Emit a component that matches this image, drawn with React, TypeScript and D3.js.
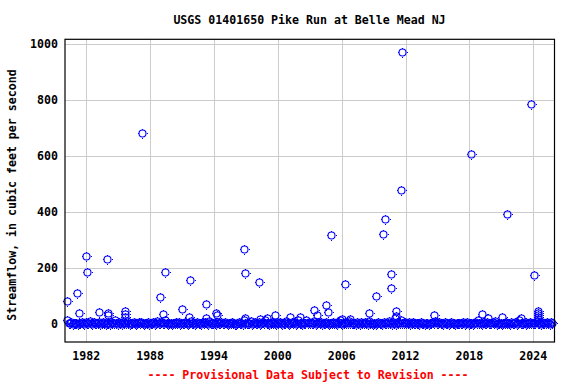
import React from 'react';
import * as d3 from 'd3';

const titleText = 'USGS 01401650 Pike Run at Belle Mead NJ';
const yAxisTitle = 'Streamflow, in cubic feet per second';
const footerText = '---- Provisional Data Subject to Revision ----';

const xTicks = [1982, 1988, 1994, 2000, 2006, 2012, 2018, 2024];
const yTicks = [0, 200, 400, 600, 800, 1000];

// high / notable measurements (decimal year, cfs)
const peakDates = [
  1980.2, 1980.2, 1981.15, 1981.34, 1982.0, 1982.06, 1983.2, 1983.97, 1984.0, 1984.05,
  1985.65, 1985.65, 1985.65, 1987.25, 1988.93, 1989.19, 1989.4, 1991.0, 1991.65, 1991.75,
  1993.25, 1993.25, 1994.16, 1994.25, 1996.81, 1996.9, 1996.95, 1998.2, 1998.35, 1999.0,
  1999.69, 2001.1, 2002.1, 2003.37, 2003.65, 2004.5, 2004.69, 2004.97, 2006.05, 2006.28,
  2006.8, 2008.53, 2009.25, 2009.84, 2010.1, 2010.68, 2010.68, 2011.15, 2011.1, 2011.0,
  2011.56, 2011.66, 2014.7, 2018.18, 2019.2, 2019.75, 2021.06, 2021.56, 2022.87, 2023.81,
  2024.09, 2024.44, 2024.44, 2024.44, 2024.44, 2024.44,
];
const peakValues = [
  82, 15, 111, 39, 245, 185, 44, 231, 39, 33,
  47, 36, 27, 680, 97, 36, 185, 54, 27, 157,
  72, 24, 41, 34, 267, 181, 21, 149, 19, 24,
  33, 27, 27, 50, 32, 69, 43, 317, 19, 142,
  19, 40, 100, 320, 374, 179, 128, 48, 31, 21,
  477, 968, 33, 605, 38, 21, 27, 392, 24, 784,
  174, 48, 40, 33, 27, 20,
];

// routine low-flow measurements, 8 per year from 1981 to 2024
const lowFlowStartYear = 1981;
const lowFlowByYear = [
  [4, 2, 6, 3, 9, 5, 2, 7],
  [6, 3, 12, 4, 2, 8, 5, 3],
  [3, 7, 2, 5, 10, 4, 1, 6],
  [5, 2, 8, 3, 6, 14, 4, 2],
  [7, 4, 2, 9, 3, 5, 11, 3],
  [2, 6, 4, 8, 3, 1, 5, 7],
  [4, 9, 3, 2, 6, 4, 8, 2],
  [3, 5, 7, 2, 4, 12, 3, 6],
  [8, 3, 5, 15, 4, 2, 6, 3],
  [2, 6, 3, 7, 5, 9, 2, 4],
  [5, 3, 10, 4, 2, 6, 13, 3],
  [6, 2, 4, 8, 3, 5, 2, 7],
  [3, 8, 5, 2, 12, 4, 6, 3],
  [4, 2, 7, 3, 5, 9, 3, 6],
  [7, 4, 2, 6, 3, 8, 4, 2],
  [2, 5, 9, 3, 6, 2, 14, 5],
  [5, 3, 6, 11, 2, 4, 7, 3],
  [3, 7, 2, 5, 8, 3, 16, 4],
  [6, 2, 4, 9, 3, 5, 2, 8],
  [4, 8, 3, 2, 6, 4, 12, 3],
  [2, 5, 7, 3, 9, 2, 5, 14],
  [5, 3, 2, 6, 4, 15, 3, 7],
  [3, 6, 4, 13, 2, 5, 8, 3],
  [7, 2, 5, 3, 10, 4, 2, 6],
  [4, 9, 3, 6, 2, 7, 14, 3],
  [2, 5, 8, 3, 5, 12, 3, 6],
  [6, 3, 2, 7, 4, 2, 9, 5],
  [3, 7, 5, 2, 13, 4, 6, 2],
  [5, 2, 4, 8, 3, 6, 2, 7],
  [4, 6, 3, 11, 5, 2, 8, 3],
  [2, 8, 4, 6, 16, 3, 5, 9],
  [6, 3, 7, 2, 4, 9, 3, 5],
  [3, 5, 2, 8, 4, 6, 2, 4],
  [5, 2, 6, 3, 9, 4, 12, 3],
  [4, 7, 3, 5, 2, 8, 4, 6],
  [2, 4, 8, 3, 6, 2, 5, 3],
  [6, 3, 5, 9, 2, 4, 7, 2],
  [3, 6, 2, 4, 8, 3, 14, 5],
  [5, 2, 7, 3, 5, 9, 3, 6],
  [4, 8, 3, 12, 2, 5, 4, 3],
  [2, 5, 4, 7, 3, 6, 2, 8],
  [6, 3, 9, 2, 5, 14, 4, 3],
  [3, 7, 2, 5, 4, 8, 3, 6],
  [5, 4, 11, 3, 6, 2, 9, 4],
];
const lowFlow1980Dates = [1980.35, 1980.48, 1980.6, 1980.72, 1980.85, 1980.95];
const lowFlow1980Values = [5, 3, 8, 2, 6, 4];
const lowFlow2025Dates = [2025.05, 2025.18, 2025.3, 2025.42, 2025.55, 2025.68, 2025.8];
const lowFlow2025Values = [6, 3, 9, 4, 2, 7, 3];

const W = 576;
const H = 384;
const M = { left: 65, right: 554.5, top: 39.3, bottom: 342 };
const FONT = '"DejaVu Sans Mono", "Liberation Mono", monospace';

function Marker({ x, y }: { x: number; y: number }) {
  const cx = Math.round(x) + 0.5;
  const cy = Math.round(y) + 0.5;
  return (
    <g transform={`translate(${cx},${cy})`}>
      <circle r={3.5} fill="none" stroke="#0000ff" strokeWidth={1.1} />
      <path d="M0,-4V-5M0,4V5M-4,0H-5M4,0H5" stroke="#0000ff" strokeWidth={1} shapeRendering="crispEdges" />
    </g>
  );
}

export default function App() {
  const x = d3.scaleLinear().domain([1980, 2026]).range([M.left, M.right]);
  const y = d3.scaleLinear().domain([-63, 1015]).range([M.bottom, M.top]);

  const pts: { d: number; v: number }[] = [];
  lowFlow1980Dates.forEach((d, i) => pts.push({ d, v: lowFlow1980Values[i] }));
  lowFlowByYear.forEach((row, yi) => {
    row.forEach((v, i) => pts.push({ d: lowFlowStartYear + yi + (i + 0.5) / row.length, v }));
  });
  lowFlow2025Dates.forEach((d, i) => pts.push({ d, v: lowFlow2025Values[i] }));
  peakDates.forEach((d, i) => pts.push({ d, v: peakValues[i] }));

  return (
    <svg width={W} height={H} style={{ position: 'absolute', left: 0, top: 0, background: '#fff' }}>
      <rect x={0} y={0} width={W} height={H} fill="#fff" />
      {yTicks.map((t) => (
        <line key={'gy' + t} x1={M.left} x2={M.right} y1={Math.round(y(t)) + 0.5} y2={Math.round(y(t)) + 0.5} stroke="#cccccc" strokeWidth={1} />
      ))}
      {xTicks.map((t) => (
        <line key={'gx' + t} y1={M.top} y2={M.bottom} x1={Math.round(x(t)) + 0.5} x2={Math.round(x(t)) + 0.5} stroke="#cccccc" strokeWidth={1} />
      ))}
      {pts.map((p, i) => (
        <Marker key={i} x={x(p.d)} y={y(p.v)} />
      ))}
      <rect x={M.left} y={M.top} width={M.right - M.left} height={M.bottom - M.top} fill="none" stroke="#000" strokeWidth={1.2} />
      {yTicks.map((t) => (
        <text key={'ty' + t} x={58} y={y(t)} dy="0.36em" textAnchor="end" fontFamily={FONT} fontWeight="bold" fontSize={11.6} fill="#000">
          {t}
        </text>
      ))}
      {xTicks.map((t) => (
        <text key={'tx' + t} x={x(t)} y={360} textAnchor="middle" fontFamily={FONT} fontWeight="bold" fontSize={11.6} fill="#000">
          {t}
        </text>
      ))}
      <text x={309.5} y={24} textAnchor="middle" fontFamily={FONT} fontWeight="bold" fontSize={11.6} fill="#000">
        {titleText}
      </text>
      <text transform="translate(15.5,195) rotate(-90)" textAnchor="middle" fontFamily={FONT} fontWeight="bold" fontSize={11.6} fill="#000">
        {yAxisTitle}
      </text>
      <text x={308} y={379} textAnchor="middle" fontFamily={FONT} fontWeight="bold" fontSize={11.6} fill="#ff0000">
        {footerText}
      </text>
    </svg>
  );
}
